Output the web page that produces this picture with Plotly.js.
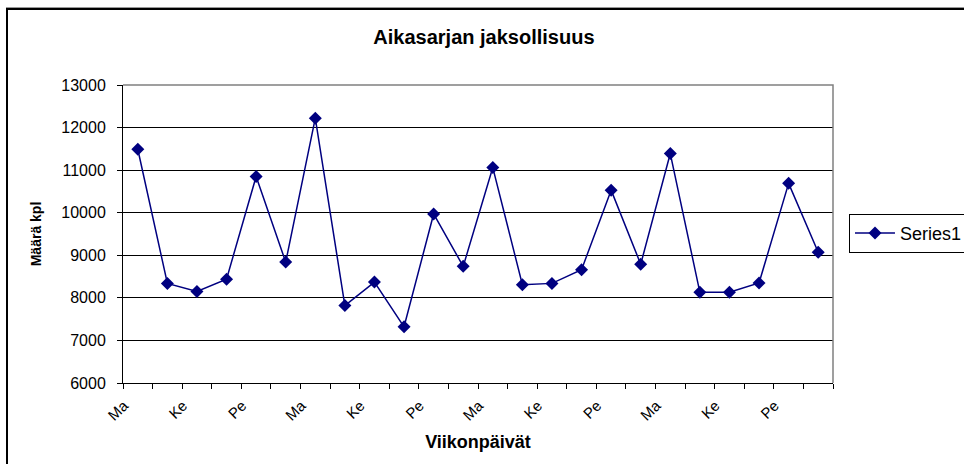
<!DOCTYPE html>
<html>
<head>
<meta charset="utf-8">
<script src="https://cdn.plot.ly/plotly-3.0.1.min.js"></script>
<style>
  body { margin: 0; background: #fff; }
  #kehys {
    position: absolute; left: 6px; top: 8px; width: 1000px; height: 500px;
    border-left: 2px solid #000; border-top: 2px solid #000;
    box-shadow: 0 -1px 0 #999;
  }
  #plot { position: absolute; left: 0; top: 0; width: 964px; height: 464px; }
</style>
</head>
<body>
<div id="kehys"></div>
<div id="plot"></div>
<script>
// Viikonpäivät (6 päivän jakso, toistuu 4 kertaa)
const paivat = [
  "Ma", "Ti", "Ke", "To", "Pe", "La",
  "Ma", "Ti", "Ke", "To", "Pe", "La",
  "Ma", "Ti", "Ke", "To", "Pe", "La",
  "Ma", "Ti", "Ke", "To", "Pe", "La"
];
// Määrä kpl, luettu kuvasta
const maarat = [
  11490, 8340, 8150, 8440, 10850, 8840,
  12220, 7820, 8370, 7320, 9970, 8740,
  11060, 8310, 8340, 8660, 10530, 8790,
  11390, 8130, 8130, 8350, 10690, 9070
];

const x = paivat.map((_, i) => i);
// joka toinen päivä näytetään akselilla
const tickIdx = x.filter((i) => i % 2 === 0);
const tickText = tickIdx.map((i) => paivat[i]);

const fontti = "Liberation Sans, Arial, sans-serif";

const trace = {
  x: x,
  y: maarat,
  type: "scatter",
  mode: "lines+markers",
  name: "Series1",
  line: { color: "#000080", width: 1.5 },
  marker: { symbol: "diamond", size: 10, color: "#000080" },
};

const layout = {
  width: 964,
  height: 464,
  margin: { l: 123, r: 131, t: 85, b: 81, autoexpand: false },
  paper_bgcolor: "rgba(0,0,0,0)",
  plot_bgcolor: "#fff",
  font: { family: fontti, size: 14, color: "#000" },
  title: {
    text: "<b>Aikasarjan jaksollisuus</b>",
    font: { size: 20 },
    x: 0.502, xanchor: "center",
    y: 1 - 37 / 464, yref: "container", yanchor: "middle",
  },
  xaxis: {
    title: { text: "<b>Viikonpäivät</b>", font: { size: 18 }, standoff: 12 },
    range: [-0.5, 23.5],
    tickmode: "array",
    tickvals: tickIdx,
    ticktext: tickText,
    tickangle: -45,
    ticks: "",
    tickfont: { size: 15 },
    ticklabelshift: -14,
    ticklabelstandoff: 7,
    showgrid: false,
    zeroline: false,
    showline: true,
    linecolor: "#000",
    linewidth: 1,
    minor: { tickmode: "linear", tick0: -0.5, dtick: 1, ticks: "outside", ticklen: 5, tickcolor: "#000", showgrid: false },
  },
  yaxis: {
    title: { text: "<b>Määrä kpl</b>", font: { size: 14 }, standoff: 16 },
    range: [6000, 13000],
    dtick: 1000,
    tickformat: "d",
    ticks: "outside",
    ticklen: 5,
    tickcolor: "#000",
    tickfont: { size: 16 },
    ticklabelstandoff: 8,
    showgrid: true,
    gridcolor: "#000",
    gridwidth: 1,
    zeroline: false,
    showline: true,
    linecolor: "#000",
    linewidth: 1,
  },
  showlegend: true,
  legend: {
    x: 1.0225, xanchor: "left",
    y: 0.502, yanchor: "middle",
    bordercolor: "#000",
    borderwidth: 1,
    itemwidth: 40,
    font: { size: 18 },
  },
  shapes: [
    {
      type: "path",
      xref: "paper", yref: "paper",
      path: "M0,1 L1,1 L1,0",
      line: { color: "#808080", width: 1.5 },
      layer: "above",
    },
  ],
};

Plotly.newPlot("plot", [trace], layout, { displayModeBar: false, staticPlot: true });
</script>
</body>
</html>
